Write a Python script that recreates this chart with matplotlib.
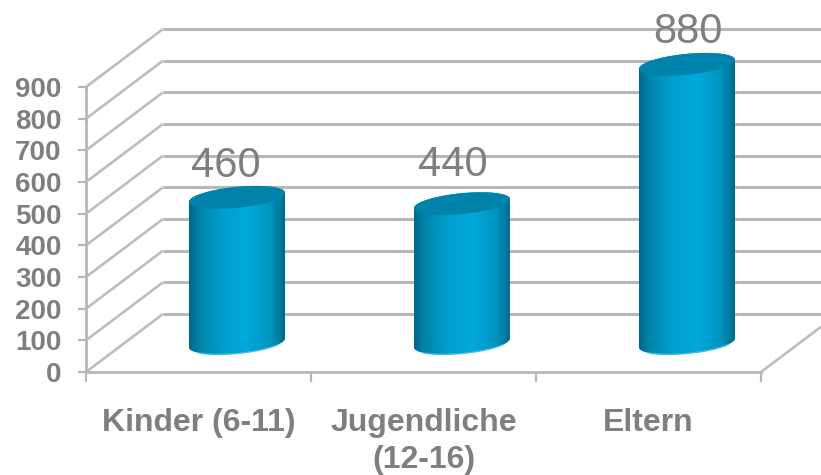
import matplotlib
matplotlib.use('Agg')
import matplotlib.pyplot as plt
from matplotlib.colors import LinearSegmentedColormap
from matplotlib.patches import Polygon
import numpy as np

categories = ['Kinder (6-11)', 'Jugendliche\n(12-16)', 'Eltern']
values = [460, 440, 880]
y_ticks = [0, 100, 200, 300, 400, 500, 600, 700, 800, 900]

W, H = 821, 475
GREY = '#7f7f7f'
GRID = '#b7b7b7'
plt.rcParams['font.family'] = ['Liberation Sans', 'DejaVu Sans']

fig = plt.figure(figsize=(W / 100, H / 100), dpi=100, facecolor='white')
# front plane of the 3D box, in pixels: x 86-761, y 372-87
ax = fig.add_axes([86 / W, 1 - 372 / H, 675 / W, 285 / H])
ax.patch.set_alpha(0)
ax.set_xlim(-0.5, 2.5)
ax.set_ylim(0, 900)

# pixel to data helpers
px_x = 3 / 675
px_y = 900 / 285
depth_x, depth_y = 77 * px_x, 58 * px_y
right_edge = -0.5 + (W - 86) * px_x

# ── Walls ─────────────────────────────────────────────
for v in y_ticks:
    ax.plot([-0.5, -0.5 + depth_x], [v, v + depth_y], color='#bdbdbd', lw=1.9,
            clip_on=False, zorder=1, solid_capstyle='butt')
    ax.plot([-0.5 + depth_x, right_edge], [v + depth_y, v + depth_y], color=GRID, lw=2.2,
            clip_on=False, zorder=1, solid_capstyle='butt')
ax.plot([2.5, 2.5 + depth_x], [0, depth_y], color='#bdbdbd', lw=1.9, clip_on=False, zorder=1)

# ── Cylinders ─────────────────────────────────────────
cmap = LinearSegmentedColormap.from_list('cyl', [
    (0.0, '#006788'), (0.1, '#0083a9'), (0.35, '#009fcc'), (0.6, '#00a9db'),
    (0.85, '#0095bf'), (1.0, '#006a8c')])
grad = np.linspace(0, 1, 256).reshape(1, -1)
t = np.linspace(0, 2 * np.pi, 121)
half_w, minor, tilt = 48, 10.5, 4.5


def ellipse(cx, v, tt):
    return (cx + half_w * px_x * np.cos(tt),
            v + depth_y / 2 + (minor * np.sin(tt) + tilt * np.cos(tt)) * px_y)


for i, v in enumerate(values):
    cx = i + depth_x / 2
    # body outline: lower half of bottom ellipse, then top ellipse far side
    xb, yb = ellipse(cx, 0, np.linspace(np.pi, 2 * np.pi, 60))
    xt, yt = ellipse(cx, v, np.linspace(0, np.pi, 60))
    body = Polygon(np.column_stack([np.r_[xb, xt], np.r_[yb, yt]]), closed=True,
                   transform=ax.transData, facecolor='none', edgecolor='none')
    ax.add_patch(body)
    body.set_clip_on(False)
    im = ax.imshow(grad, cmap=cmap, aspect='auto', zorder=3, interpolation='bilinear',
                   extent=[cx - half_w * px_x, cx + half_w * px_x, yb.min(), yt.max()])
    im.set_clip_path(body)
    im.set_clip_box(fig.bbox)
    # light rim on the bottom
    ax.plot(xb[12:50], yb[12:50], color='#45bfe0', lw=1.0, zorder=4, clip_on=False)
    # top cap
    xc, yc = ellipse(cx, v, t)
    ax.fill(xc, yc, color='#0083aa', zorder=5, clip_on=False, lw=0)

ax.set_xlim(-0.5, 2.5)
ax.set_ylim(0, 900)

# ── Value labels, placed by hand as in the source ─────
label_shift = [-11, -9, 1]
label_rise = [31, 39, 32]
for i, v in enumerate(values):
    ax.annotate(str(v), xy=(i + depth_x / 2, v + depth_y / 2),
                xytext=(label_shift[i] * 0.72, label_rise[i] * 0.72),
                textcoords='offset points', ha='center', va='center',
                fontsize=30, color=GREY, zorder=6, annotation_clip=False)

# ── Axes ──────────────────────────────────────────────
for s in ['top', 'right']:
    ax.spines[s].set_visible(False)
for s in ['left', 'bottom']:
    ax.spines[s].set_color(GRID)
    ax.spines[s].set_linewidth(2.0)
ax.set_yticks(y_ticks)
ax.set_xticks([-0.5, 0.5, 1.5, 2.5])
ax.set_xticklabels([])
ax.set_xticks([0, 1, 2], minor=True)
ax.set_xticklabels(categories, minor=True, fontsize=23, fontweight='bold', color=GREY,
                   linespacing=1.32, va='top')
ax.tick_params(axis='x', which='major', length=7, width=1.6, color=GRID)
ax.tick_params(axis='x', which='minor', length=0, pad=26)
ax.tick_params(axis='y', length=6, width=1.6, color=GRID, pad=11.5, labelcolor=GREY, labelsize=20)
for lab in ax.get_yticklabels():
    lab.set_fontweight('bold')

fig.savefig('out.png', dpi=100, facecolor='white')
plt.close(fig)
